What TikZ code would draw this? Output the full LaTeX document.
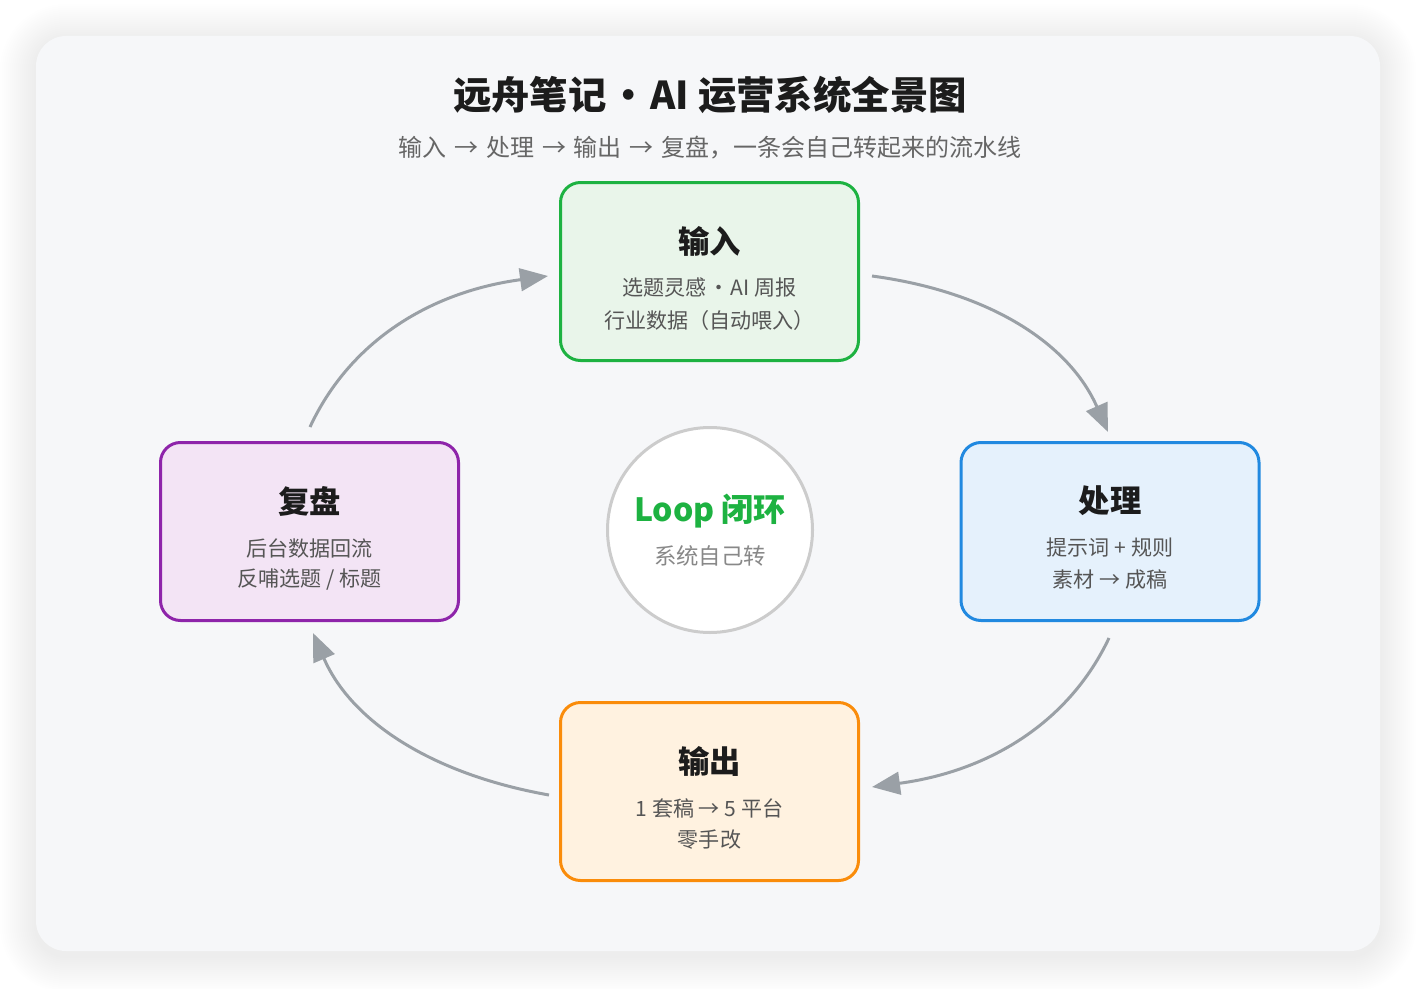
\documentclass[tikz,border=0pt]{standalone}
\usepackage{fontspec}
\setmainfont{Noto Sans CJK SC}
\usetikzlibrary{arrows.meta,calc}
\definecolor{cardbg}{HTML}{F6F7F9}
\definecolor{ttlc}{HTML}{1C1C1C}
\definecolor{subc}{HTML}{666666}
\definecolor{bodyc}{HTML}{555555}
\definecolor{greenB}{HTML}{1DB241}
\definecolor{greenF}{HTML}{E9F5EA}
\definecolor{blueB}{HTML}{2189E0}
\definecolor{blueF}{HTML}{E5F1FC}
\definecolor{orangeB}{HTML}{FA8C0A}
\definecolor{orangeF}{HTML}{FFF2E0}
\definecolor{purpleB}{HTML}{8E24AA}
\definecolor{purpleF}{HTML}{F3E4F5}
\definecolor{arrowc}{HTML}{9AA0A6}
\definecolor{ringc}{HTML}{CCCCCC}
\definecolor{loopgray}{HTML}{888888}
\newcommand{\mydot}{\hspace{0.32em}\makebox[0.5em]{·}\hspace{0.32em}}
\newcommand{\myarr}{\hspace{0.33em}→\hspace{0.33em}}
\begin{document}
\begin{tikzpicture}[x=0.75pt,y=-0.75pt,
  stagebox/.style={draw, line width=2.25pt, rounded corners=15pt,
    minimum width=223.5pt, minimum height=133.5pt},
  stagetitle/.style={text=ttlc, font=\fontsize{23.5}{28}\selectfont\bfseries},
  stagebody/.style={text=bodyc, font=\fontsize{15.8}{19}\selectfont},
  flow/.style={draw=arrowc, line width=2.25pt,
    -{Triangle[length=21pt,width=17pt]}}
]
\useasboundingbox (0,0) rectangle (1416,988);
\fill[white] (0,0) rectangle (1416,988);
% soft card shadow
\foreach \i in {1,...,18}{
  \pgfmathsetmacro{\rr}{22.5+1.5*\i}
  \fill[black, opacity=0.0055, rounded corners=\rr pt]
    (36-2*\i, 40-2*\i) rectangle (1380+2*\i, 956+2*\i);
}
\fill[cardbg, rounded corners=22.5pt] (36,36) rectangle (1380,951);

% title
\node[text=ttlc, font=\fontsize{28.8}{35}\selectfont\bfseries] (title) at (710,95)
  {远舟笔记\mydot AI 运营系统全景图};
\node[text=subc, font=\fontsize{18}{22}\selectfont] (subtitle) at (710,148)
  {输入\myarr 处理\myarr 输出\myarr 复盘，一条会自己转起来的流水线};

% stages
\node[stagebox, draw=greenB, fill=greenF] (in) at (709.5,271.5) {};
\node[stagebox, draw=blueB, fill=blueF] (proc) at (1110,531.5) {};
\node[stagebox, draw=orangeB, fill=orangeF] (out) at (709.5,791.5) {};
\node[stagebox, draw=purpleB, fill=purpleF] (rev) at (309.5,531.5) {};

\node[stagetitle] (inT) at ($(in)+(0,-30.5)$) {输入};
\node[stagebody] (inA) at ($(in)+(0,16.5)$) {选题灵感\mydot AI 周报};
\node[stagebody] (inB) at ($(in)+(0,48.5)$) {行业数据（自动喂入）};

\node[stagetitle] (procT) at ($(proc)+(0,-30.5)$) {处理};
\node[stagebody] (procA) at ($(proc)+(0,16.5)$) {提示词 + 规则};
\node[stagebody] (procB) at ($(proc)+(0,48.5)$) {素材 → 成稿};

\node[stagetitle] (outT) at ($(out)+(0,-30.5)$) {输出};
\node[stagebody] (outA) at ($(out)+(0,16.5)$) {1 套稿 → 5 平台};
\node[stagebody] (outB) at ($(out)+(0,48.5)$) {零手改};

\node[stagetitle] (revT) at ($(rev)+(0,-30.5)$) {复盘};
\node[stagebody] (revA) at ($(rev)+(0,16.5)$) {后台数据回流};
\node[stagebody] (revB) at ($(rev)+(0,48.5)$) {反哺选题 / 标题};

% center loop
\node[circle, draw=ringc, line width=2.25pt, fill=white, minimum size=153.75pt, inner sep=0pt]
  (loop) at (710,530) {};
\node[text=greenB, font=\fontsize{24}{28}\selectfont\bfseries] (loopT) at ($(loop)+(0,-19)$) {Loop 闭环};
\node[text=loopgray, font=\fontsize{16.8}{20}\selectfont] (loopS) at ($(loop)+(0,26)$) {系统自己转};

% connector end points and controls
\coordinate (a1s) at ($(in.east)+(12,4.5)$);
\coordinate (a1c) at ($(loop)+(340,-230)$);
\coordinate (a1e) at ($(proc.north)+(-2,-9)$);
\coordinate (a2s) at ($(proc.south)+(-1,16)$);
\coordinate (a2c) at ($(loop)+(340,233)$);
\coordinate (a2e) at ($(out.east)+(12,-4.5)$);
\coordinate (a3s) at ($(out.west)+(-10,3.5)$);
\coordinate (a3c) at ($(loop)+(-341,233)$);
\coordinate (a3e) at ($(rev.south)+(3.5,11)$);
\coordinate (a4s) at ($(rev.north)+(0.5,-14)$);
\coordinate (a4c) at ($(loop)+(-341,-230)$);
\coordinate (a4e) at ($(in.west)+(-11,4.5)$);

\draw[flow] (a1s) .. controls ($(a1s)!2/3!(a1c)$) and ($(a1e)!2/3!(a1c)$) .. (a1e);
\draw[flow] (a2s) .. controls ($(a2s)!2/3!(a2c)$) and ($(a2e)!2/3!(a2c)$) .. (a2e);
\draw[flow] (a3s) .. controls ($(a3s)!2/3!(a3c)$) and ($(a3e)!2/3!(a3c)$) .. (a3e);
\draw[flow] (a4s) .. controls ($(a4s)!2/3!(a4c)$) and ($(a4e)!2/3!(a4c)$) .. (a4e);
\end{tikzpicture}
\end{document}
